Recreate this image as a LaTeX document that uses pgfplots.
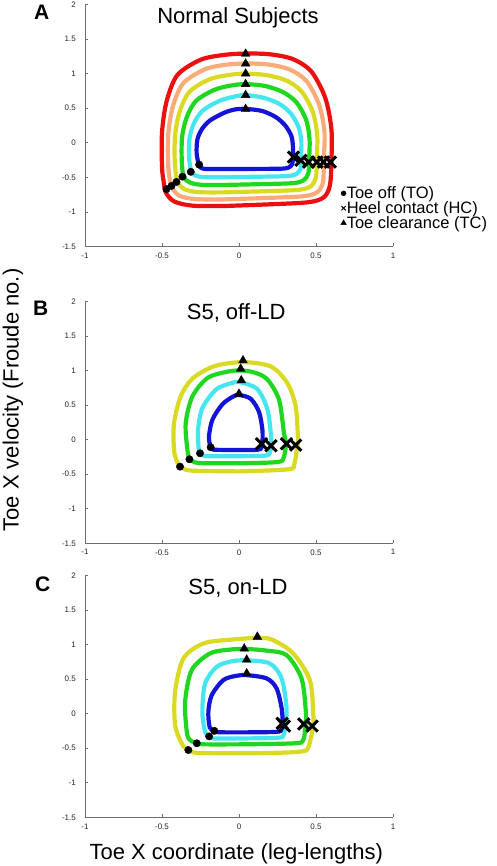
\documentclass[border=0pt]{standalone}
\usepackage{fontspec}
\setmainfont{Liberation Sans}
\usepackage{pgfplots}
\pgfplotsset{compat=1.18}
\definecolor{cblue}{RGB}{20,20,215}
\definecolor{ccyan}{RGB}{70,230,240}
\definecolor{cgreen}{RGB}{30,215,30}
\definecolor{cyellow}{RGB}{218,218,35}
\definecolor{corange}{RGB}{250,172,120}
\definecolor{cred}{RGB}{235,15,15}
\definecolor{axgray}{RGB}{110,110,110}
\pgfplotsset{
 loopax/.style={
  scale only axis, width=308pt, height=242pt,
  xmin=-1, xmax=1, ymin=-1.5, ymax=2,
  axis lines*=left, axis line style={axgray, line width=0.8pt},
  tick align=inside, major tick length=3pt, tick style={axgray, line width=0.6pt},
  xtick={-1,-0.5,0,0.5,1}, ytick={-1.5,-1,-0.5,0,0.5,1,1.5,2},
  /pgf/number format/assume math mode=true,
  ticklabel style={font=\fontsize{8}{9}\selectfont, text=black!85, inner sep=0pt},
  xticklabel style={yshift=-6pt},
  yticklabel style={xshift=-9pt},
  clip=false,
 },
 lp/.style={smooth, line width=4.2pt, color=#1, no markers, forget plot},
 to/.style={only marks, mark=*, mark size=3.7pt, black, forget plot},
 hc/.style={only marks, mark=x, mark size=8pt, black, mark options={line width=3pt}, forget plot},
 tc/.style={only marks, mark=triangle*, mark size=5pt, black, forget plot},
}
\begin{document}
\begin{tikzpicture}
\useasboundingbox (0,0) rectangle (496pt,866pt);
% ---------------- Panel A
\begin{axis}[loopax, at={(85pt,619.5pt)}, anchor=south west,
  legend style={at={(0.83,0.25)}, anchor=north west, draw=none, fill=none,
    font=\fontsize{16.5}{16.5}\selectfont, row sep=0.6pt, inner sep=0pt,
    nodes={inner sep=0.4pt}},
  legend cell align=left,
  legend image code/.code={\draw[mark repeat=2,mark phase=2,#1] plot coordinates {(0pt,0pt)(3.5pt,0pt)(7pt,0pt)};}]
\addplot[lp=cred] coordinates {(-0.10,-0.915) (-0.30,-0.91) (-0.42,-0.85) (-0.475,-0.72) (-0.49,-0.55) (-0.50,-0.35) (-0.50,0.15) (-0.47,0.60) (-0.40,0.98) (-0.25,1.20) (-0.10,1.27) (0.04,1.29) (0.20,1.28) (0.35,1.21) (0.47,1.03) (0.56,0.65) (0.60,0.20) (0.60,-0.28) (0.59,-0.62) (0.55,-0.79) (0.45,-0.86) (0.20,-0.89) (-0.10,-0.915)};
\addplot[lp=corange] coordinates {(-0.10,-0.819) (-0.282,-0.815) (-0.388,-0.764) (-0.44,-0.62) (-0.46,-0.314) (-0.459,0.132) (-0.429,0.528) (-0.362,0.861) (-0.223,1.061) (-0.087,1.128) (0.04,1.146) (0.191,1.132) (0.33,1.059) (0.439,0.89) (0.52,0.551) (0.555,0.155) (0.55,-0.275) (0.546,-0.564) (0.509,-0.713) (0.418,-0.773) (0.182,-0.798) (-0.10,-0.819)};
\addplot[lp=cyellow] coordinates {(-0.10,-0.717) (-0.263,-0.714) (-0.353,-0.672) (-0.40,-0.56) (-0.417,-0.276) (-0.415,0.113) (-0.385,0.452) (-0.322,0.736) (-0.195,0.915) (-0.074,0.978) (0.04,1.0) (0.182,0.977) (0.309,0.899) (0.407,0.741) (0.479,0.447) (0.508,0.108) (0.505,-0.27) (0.499,-0.505) (0.465,-0.631) (0.383,-0.681) (0.163,-0.701) (-0.10,-0.717)};
\addplot[lp=cgreen] coordinates {(-0.10,-0.61) (-0.243,-0.608) (-0.317,-0.576) (-0.36,-0.49) (-0.372,-0.236) (-0.369,0.093) (-0.339,0.372) (-0.28,0.604) (-0.165,0.761) (-0.06,0.825) (0.04,0.848) (0.172,0.82) (0.287,0.731) (0.373,0.585) (0.435,0.337) (0.458,0.058) (0.455,-0.265) (0.45,-0.443) (0.419,-0.545) (0.347,-0.584) (0.143,-0.598) (-0.10,-0.61)};
\addplot[lp=ccyan] coordinates {(-0.10,-0.498) (-0.222,-0.497) (-0.28,-0.476) (-0.31,-0.41) (-0.325,-0.194) (-0.321,0.072) (-0.291,0.288) (-0.236,0.465) (-0.133,0.60) (-0.045,0.66) (0.04,0.69) (0.161,0.65) (0.264,0.56) (0.337,0.422) (0.388,0.221) (0.405,0.005) (0.40,-0.24) (0.399,-0.378) (0.371,-0.455) (0.31,-0.482) (0.122,-0.491) (-0.10,-0.498)};
\addplot[lp=cblue] coordinates {(-0.10,-0.38) (-0.20,-0.38) (-0.24,-0.37) (-0.26,-0.32) (-0.275,-0.15) (-0.27,0.05) (-0.24,0.20) (-0.19,0.32) (-0.10,0.43) (-0.03,0.48) (0.04,0.49) (0.15,0.46) (0.24,0.37) (0.30,0.25) (0.34,0.10) (0.35,-0.05) (0.35,-0.21) (0.345,-0.31) (0.32,-0.36) (0.27,-0.375) (0.10,-0.378) (-0.10,-0.38)};
\addplot[to] coordinates {(-0.259,-0.316) (-0.313,-0.42) (-0.367,-0.49) (-0.406,-0.566) (-0.438,-0.624) (-0.471,-0.67)};
\addplot[hc] coordinates {(0.354,-0.207) (0.402,-0.254) (0.452,-0.279) (0.506,-0.279) (0.549,-0.279) (0.593,-0.279)};
\addplot[tc] coordinates {(0.043,0.488) (0.043,0.69) (0.043,0.848) (0.043,1.0) (0.043,1.144) (0.043,1.287)};
\addlegendimage{only marks, mark=*, mark size=2.5pt, black}
\addlegendentry{Toe off (TO)}
\addlegendimage{only marks, mark=x, mark size=3pt, black, mark options={line width=1pt}}
\addlegendentry{Heel contact (HC)}
\addlegendimage{only marks, mark=triangle*, mark size=3.2pt, black}
\addlegendentry{Toe clearance (TC)}
\end{axis}
% ---------------- Panel B
\begin{axis}[loopax, at={(85pt,322.7pt)}, anchor=south west]
\addplot[lp=cyellow] coordinates {(0.0,-0.46) (-0.30,-0.45) (-0.37,-0.41) (-0.40,-0.33) (-0.422,-0.149) (-0.422,0.237) (-0.379,0.623) (-0.303,0.88) (-0.162,1.06) (0.022,1.12) (0.206,1.058) (0.314,0.817) (0.368,0.478) (0.383,0.0) (0.378,-0.10) (0.36,-0.35) (0.32,-0.43) (0.0,-0.46)};
\addplot[lp=cgreen] coordinates {(0.0,-0.343) (-0.25,-0.34) (-0.305,-0.31) (-0.322,-0.28) (-0.335,-0.149) (-0.346,0.237) (-0.303,0.623) (-0.205,0.89) (-0.08,0.98) (0.008,1.0) (0.10,0.97) (0.184,0.87) (0.26,0.575) (0.292,0.093) (0.305,-0.06) (0.29,-0.26) (0.25,-0.325) (0.0,-0.343)};
\addplot[lp=ccyan] coordinates {(0.0,-0.24) (-0.20,-0.24) (-0.245,-0.22) (-0.253,-0.197) (-0.262,-0.125) (-0.266,0.14) (-0.238,0.455) (-0.151,0.72) (-0.06,0.81) (0.006,0.83) (0.119,0.73) (0.184,0.44) (0.206,0.10) (0.21,-0.08) (0.20,-0.19) (0.17,-0.232) (0.0,-0.24)};
\addplot[lp=cblue] coordinates {(0.0,-0.15) (-0.15,-0.148) (-0.175,-0.135) (-0.186,-0.10) (-0.195,0.043) (-0.173,0.286) (-0.108,0.51) (-0.04,0.62) (0.0,0.645) (0.076,0.59) (0.13,0.40) (0.152,0.14) (0.152,-0.05) (0.145,-0.12) (0.12,-0.148) (0.0,-0.15)};
\addplot[to] coordinates {(-0.184,-0.111) (-0.253,-0.198) (-0.322,-0.285) (-0.383,-0.391)};
\addplot[hc] coordinates {(0.146,-0.06) (0.208,-0.09) (0.308,-0.06) (0.368,-0.08)};
\addplot[tc] coordinates {(0.0,0.662) (0.015,0.855) (0.011,1.024) (0.026,1.145)};
\end{axis}
% ---------------- Panel C
\begin{axis}[loopax, at={(85pt,48.7pt)}, anchor=south west]
\addplot[lp=cyellow] coordinates {(0.0,-0.575) (-0.25,-0.57) (-0.31,-0.55) (-0.345,-0.50) (-0.37,-0.44) (-0.415,-0.166) (-0.415,0.315) (-0.361,0.797) (-0.231,1.014) (-0.05,1.07) (0.136,1.095) (0.222,1.062) (0.352,0.87) (0.46,0.484) (0.482,0.0) (0.48,-0.19) (0.45,-0.49) (0.40,-0.55) (0.2,-0.57) (0.0,-0.575)};
\addplot[lp=cgreen] coordinates {(0.0,-0.445) (-0.22,-0.445) (-0.27,-0.43) (-0.32,-0.38) (-0.339,-0.263) (-0.35,0.171) (-0.307,0.629) (-0.188,0.87) (-0.06,0.925) (0.039,0.935) (0.18,0.91) (0.309,0.845) (0.406,0.508) (0.434,0.026) (0.43,-0.19) (0.417,-0.383) (0.36,-0.43) (0.0,-0.445)};
\addplot[lp=ccyan] coordinates {(0.0,-0.36) (-0.16,-0.36) (-0.19,-0.34) (-0.22,-0.26) (-0.238,0.026) (-0.22,0.436) (-0.145,0.676) (-0.05,0.755) (0.05,0.77) (0.20,0.725) (0.277,0.508) (0.309,0.075) (0.30,-0.18) (0.29,-0.31) (0.25,-0.35) (0.0,-0.36)};
\addplot[lp=cblue] coordinates {(0.0,-0.272) (-0.13,-0.27) (-0.16,-0.255) (-0.19,-0.20) (-0.199,0.026) (-0.177,0.267) (-0.102,0.484) (-0.02,0.545) (0.05,0.556) (0.18,0.508) (0.244,0.364) (0.277,0.075) (0.283,-0.14) (0.275,-0.23) (0.24,-0.265) (0.0,-0.272)};
\addplot[to] coordinates {(-0.16,-0.25) (-0.194,-0.33) (-0.274,-0.43) (-0.329,-0.527)};
\addplot[hc] coordinates {(0.28,-0.14) (0.295,-0.18) (0.42,-0.15) (0.475,-0.18)};
\addplot[tc] coordinates {(0.05,0.58) (0.05,0.78) (0.034,0.94) (0.119,1.11)};
\end{axis}
% ---------------- Text
\node[font=\fontsize{22}{26}\selectfont, anchor=base, inner sep=0pt] at (238pt,842.7pt) {Normal Subjects};
\node[font=\fontsize{22}{26}\selectfont, anchor=base, inner sep=0pt] at (236.2pt,546pt) {S5, off-LD};
\node[font=\fontsize{22}{26}\selectfont, anchor=base, inner sep=0pt] at (238pt,271pt) {S5, on-LD};
\node[font=\bfseries\fontsize{21}{25}\selectfont, anchor=base west, inner sep=0pt] at (34pt,846pt) {A};
\node[font=\bfseries\fontsize{21}{25}\selectfont, anchor=base west, inner sep=0pt] at (33pt,550pt) {B};
\node[font=\bfseries\fontsize{21}{25}\selectfont, anchor=base west, inner sep=0pt] at (35pt,274pt) {C};
\node[font=\fontsize{22}{26}\selectfont, anchor=base, inner sep=0pt] at (236.3pt,6pt) {Toe X coordinate (leg-lengths)};
\node[font=\fontsize{22}{26}\selectfont, anchor=base, inner sep=0pt, rotate=90] at (18.5pt,466pt) {Toe X velocity (Froude no.)};
\end{tikzpicture}
\end{document}
